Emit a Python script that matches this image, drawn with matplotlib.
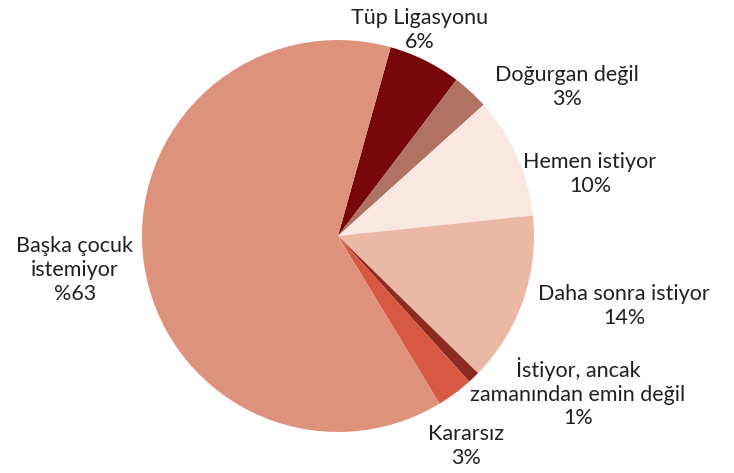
import matplotlib.pyplot as plt

plt.rcParams['font.family'] = ['Lato', 'DejaVu Sans']

# slices, clockwise from the top
labels = ['Tüp Ligasyonu\n6%', 'Doğurgan değil\n3%', 'Hemen istiyor\n10%',
          'Daha sonra istiyor\n14%', 'İstiyor, ancak\nzamanından emin değil\n1%',
          'Kararsız\n3%', 'Başka çocuk\nistemiyor\n%63']
values = [6, 3, 10, 14, 1, 3, 63]
colors = ['#770709', '#B07262', '#FAE7DF', '#EBB8A5', '#8C2B1F', '#D75944', '#DF927B']

# label centres in pixels (x, y from top)
label_pos = [(420, 30), (567, 87), (590, 174), (624, 306), (578, 393), (466, 446), (75, 270)]

W, H = 734, 473
fig = plt.figure(figsize=(W / 100, H / 100), dpi=100)
cx, cy, r = 338, 236, 196
ax = fig.add_axes([(cx - r) / W, (H - cy - r) / H, 2 * r / W, 2 * r / H])
ax.pie(values, colors=colors, startangle=74.4, counterclock=False, radius=1,
       wedgeprops=dict(linewidth=0))
ax.set_xlim(-1, 1)
ax.set_ylim(-1, 1)
ax.axis('off')

for lab, (x, y) in zip(labels, label_pos):
    fig.text(x / W, 1 - y / H, lab, ha='center', va='center', fontsize=15.5,
             color='#231F20', linespacing=1.22)

fig.savefig('out.png', dpi=100)
